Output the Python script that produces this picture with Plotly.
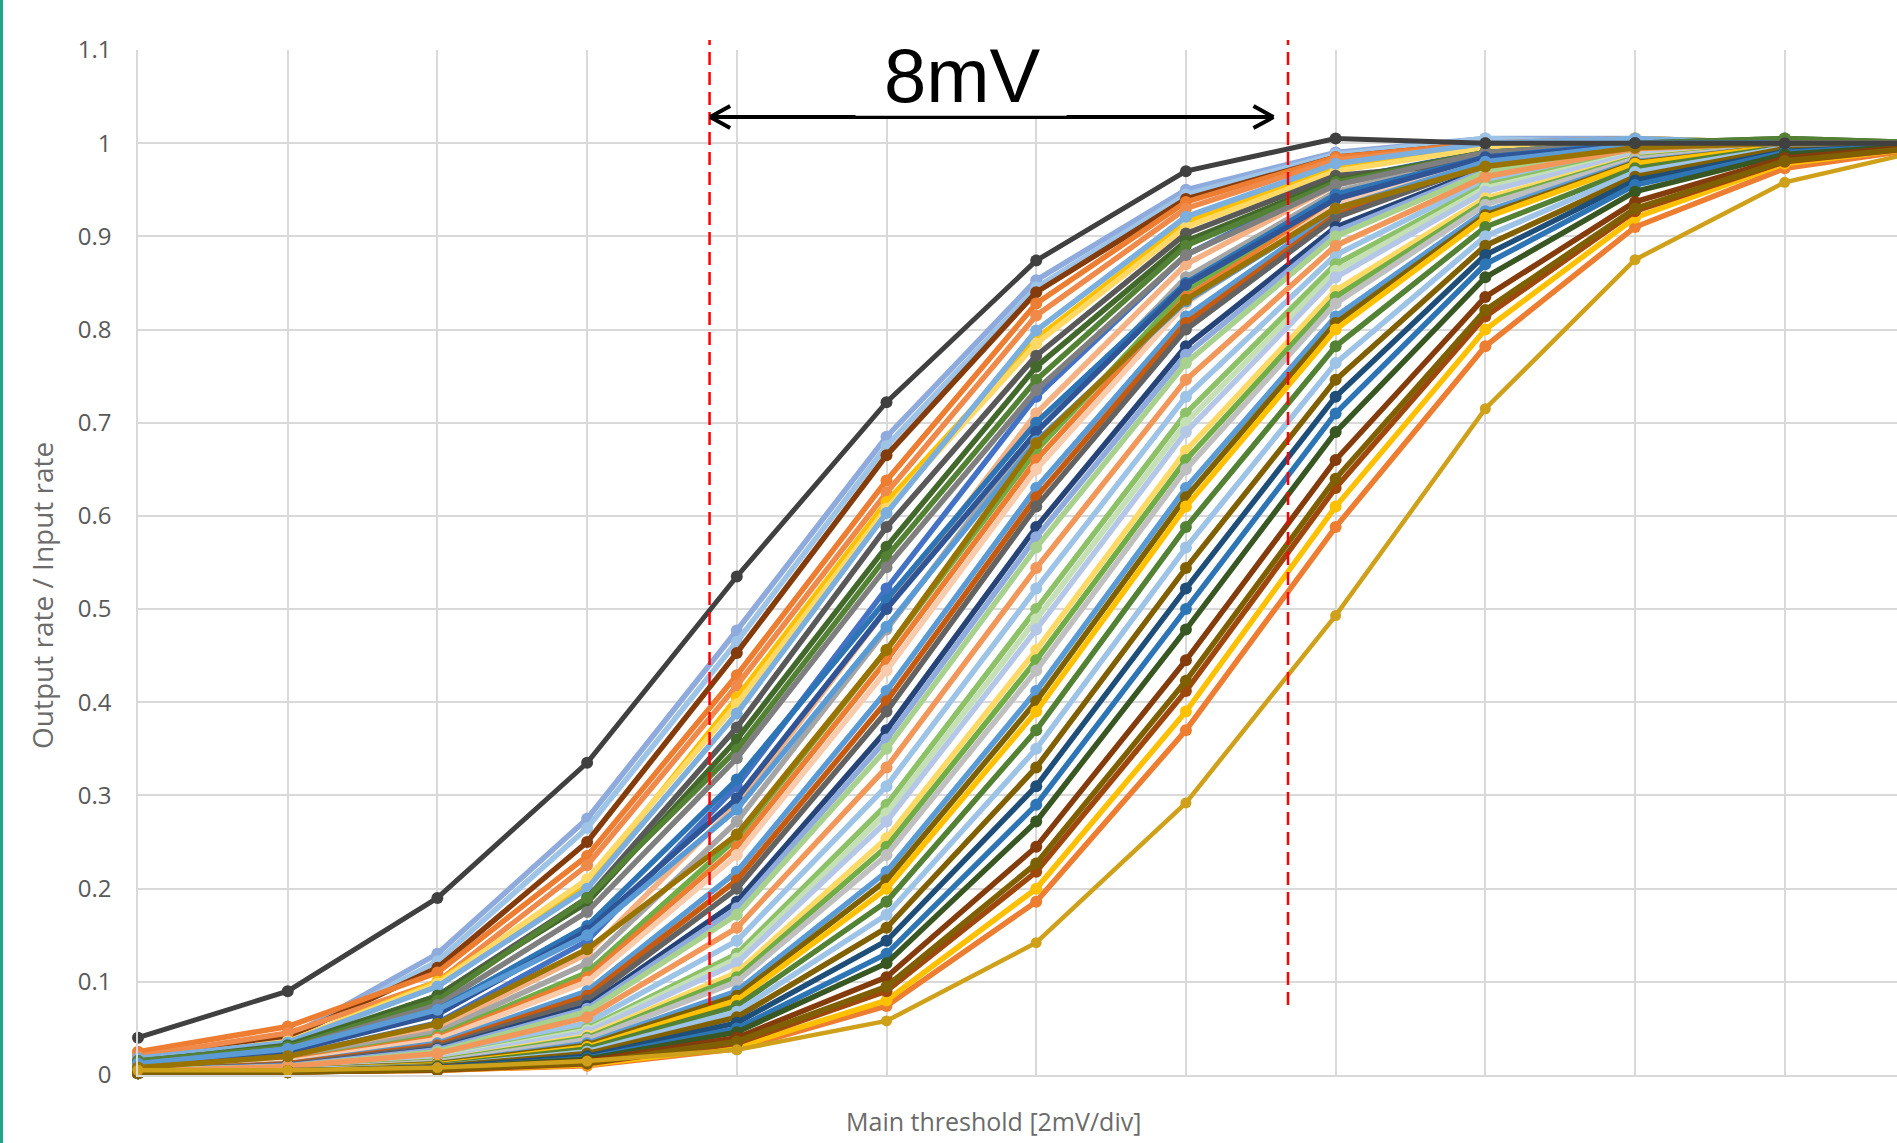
import plotly.graph_objects as go

# Threshold steps (2 mV per division)
thresholds = [0, 1, 2, 3, 4, 5, 6, 7, 8, 9, 10, 11, 12]

# Channels with the earliest turn-on
cluster_a = [
    [0.040, 0.090, 0.190, 0.335, 0.535, 0.722, 0.874, 0.970, 1.005, 1.000, 1.000, 1.000, 1.000],
    [0.022, 0.040, 0.130, 0.275, 0.477, 0.685, 0.853, 0.950, 0.990, 1.005, 1.005, 1.000, 1.000],
    [0.020, 0.038, 0.122, 0.265, 0.465, 0.675, 0.845, 0.945, 0.988, 1.005, 1.000, 1.000, 1.000],
    [0.018, 0.040, 0.115, 0.250, 0.453, 0.665, 0.840, 0.940, 0.985, 1.000, 1.000, 1.000, 1.000],
    [0.025, 0.052, 0.110, 0.235, 0.429, 0.638, 0.828, 0.937, 0.985, 1.000, 1.005, 1.000, 1.000],
    [0.020, 0.045, 0.100, 0.225, 0.418, 0.625, 0.815, 0.930, 0.982, 0.998, 1.000, 1.000, 1.000],
    [0.015, 0.035, 0.100, 0.205, 0.405, 0.615, 0.790, 0.915, 0.975, 0.995, 1.005, 1.000, 1.000],
    [0.016, 0.036, 0.098, 0.210, 0.398, 0.608, 0.785, 0.910, 0.970, 0.995, 1.000, 1.000, 1.000],
    [0.018, 0.035, 0.095, 0.200, 0.388, 0.603, 0.799, 0.921, 0.978, 1.000, 1.005, 1.000, 1.000],
    [0.015, 0.030, 0.085, 0.190, 0.373, 0.588, 0.772, 0.903, 0.965, 0.980, 1.000, 1.000, 1.000],
    [0.014, 0.032, 0.085, 0.185, 0.360, 0.567, 0.760, 0.895, 0.960, 0.990, 1.000, 1.005, 1.000],
    [0.015, 0.030, 0.080, 0.190, 0.349, 0.556, 0.746, 0.890, 0.958, 0.990, 1.000, 1.005, 1.000],
    [0.012, 0.028, 0.075, 0.175, 0.340, 0.545, 0.735, 0.880, 0.955, 0.990, 1.000, 1.000, 1.000],
    [0.012, 0.025, 0.070, 0.160, 0.317, 0.510, 0.700, 0.850, 0.945, 0.985, 1.000, 1.000, 1.000],
    [0.010, 0.025, 0.065, 0.155, 0.297, 0.500, 0.690, 0.848, 0.940, 0.985, 0.998, 1.000, 1.000],
    [0.012, 0.028, 0.070, 0.150, 0.285, 0.481, 0.680, 0.830, 0.930, 0.980, 0.998, 1.000, 1.000],
    [0.008, 0.020, 0.055, 0.135, 0.258, 0.456, 0.678, 0.832, 0.930, 0.975, 0.995, 1.000, 1.000],
]
colors_a = ["#404040", "#8FAADC", "#9DC3E6", "#843C0C", "#ED7D31", "#F08A4B", "#FFC000",
            "#FFD966", "#7CAFDD", "#595959", "#43682B", "#548235", "#7F7F7F", "#2E75B6",
            "#2F5597", "#5B9BD5", "#997300"]

cluster_b = [
    [0.008, 0.020, 0.056, 0.144, 0.310, 0.522, 0.728, 0.880, 0.960, 0.991, 0.999, 1.000, 1.000],
    [0.007, 0.018, 0.050, 0.130, 0.290, 0.500, 0.710, 0.870, 0.955, 0.990, 1.000, 1.000, 1.000],
    [0.007, 0.017, 0.046, 0.120, 0.272, 0.478, 0.690, 0.856, 0.948, 0.988, 0.999, 1.000, 1.000],
    [0.006, 0.015, 0.042, 0.110, 0.254, 0.456, 0.670, 0.842, 0.941, 0.985, 0.998, 1.000, 1.000],
    [0.006, 0.015, 0.040, 0.105, 0.245, 0.445, 0.660, 0.835, 0.937, 0.984, 0.998, 1.000, 1.000],
    [0.006, 0.014, 0.038, 0.100, 0.236, 0.434, 0.650, 0.828, 0.934, 0.983, 0.998, 1.000, 1.000],
    [0.005, 0.012, 0.034, 0.090, 0.218, 0.412, 0.630, 0.814, 0.927, 0.980, 0.997, 1.000, 1.000],
    [0.005, 0.012, 0.032, 0.085, 0.209, 0.401, 0.620, 0.807, 0.923, 0.979, 0.997, 1.000, 1.000],
    [0.005, 0.011, 0.030, 0.080, 0.200, 0.390, 0.610, 0.800, 0.920, 0.978, 0.997, 1.000, 1.000],
    [0.005, 0.010, 0.028, 0.074, 0.186, 0.370, 0.588, 0.782, 0.910, 0.973, 0.996, 1.000, 1.000],
    [0.005, 0.010, 0.027, 0.071, 0.179, 0.360, 0.577, 0.773, 0.905, 0.971, 0.996, 1.000, 1.000],
    [0.005, 0.009, 0.025, 0.068, 0.172, 0.350, 0.566, 0.764, 0.900, 0.969, 0.995, 1.000, 1.000],
    [0.004, 0.009, 0.023, 0.062, 0.158, 0.330, 0.544, 0.746, 0.890, 0.964, 0.994, 1.000, 1.000],
]
colors_b = ["#4472C4", "#F4B183", "#A5A5A5", "#70AD47", "#ED7D31", "#F8CBAD", "#5B9BD5",
            "#C55A11", "#636363", "#264478", "#8FAADC", "#A9D18E", "#F1975A"]

cluster_c = [
    [0.004, 0.008, 0.020, 0.056, 0.144, 0.310, 0.522, 0.728, 0.880, 0.960, 0.991, 0.999, 1.000],
    [0.004, 0.007, 0.018, 0.050, 0.130, 0.290, 0.500, 0.710, 0.870, 0.955, 0.990, 0.999, 1.000],
    [0.004, 0.007, 0.018, 0.048, 0.125, 0.281, 0.489, 0.700, 0.863, 0.952, 0.989, 0.999, 1.000],
    [0.004, 0.007, 0.017, 0.046, 0.120, 0.272, 0.478, 0.690, 0.856, 0.948, 0.988, 0.998, 1.000],
    [0.003, 0.006, 0.015, 0.042, 0.110, 0.254, 0.456, 0.670, 0.842, 0.941, 0.985, 0.998, 1.000],
    [0.003, 0.006, 0.015, 0.040, 0.105, 0.245, 0.445, 0.660, 0.835, 0.937, 0.984, 0.998, 1.000],
    [0.003, 0.006, 0.014, 0.038, 0.100, 0.236, 0.434, 0.650, 0.828, 0.934, 0.983, 0.998, 1.000],
    [0.003, 0.005, 0.012, 0.034, 0.090, 0.218, 0.412, 0.630, 0.814, 0.927, 0.980, 0.997, 1.000],
    [0.003, 0.005, 0.012, 0.032, 0.085, 0.209, 0.401, 0.620, 0.807, 0.923, 0.979, 0.997, 1.000],
    [0.003, 0.005, 0.011, 0.030, 0.080, 0.200, 0.390, 0.610, 0.800, 0.920, 0.978, 0.997, 1.000],
    [0.003, 0.005, 0.010, 0.028, 0.074, 0.186, 0.370, 0.588, 0.782, 0.910, 0.973, 0.996, 1.000],
    [0.002, 0.005, 0.009, 0.025, 0.068, 0.172, 0.350, 0.566, 0.764, 0.900, 0.969, 0.995, 1.000],
    [0.002, 0.004, 0.009, 0.023, 0.062, 0.158, 0.330, 0.544, 0.746, 0.890, 0.964, 0.994, 1.000],
]
colors_c = ["#9DC3E6", "#8CC168", "#C5E0B4", "#B4C7E7", "#FFD966", "#70AD47", "#BFBFBF",
            "#5B9BD5", "#7F6000", "#FFC000", "#548235", "#9DC3E6", "#806000"]

# Channels with the latest turn-on (last row: slowest channel)
cluster_d = [
    [0.002, 0.003, 0.005, 0.010, 0.028, 0.074, 0.186, 0.370, 0.588, 0.782, 0.910, 0.973, 0.996],
    [0.002, 0.003, 0.005, 0.011, 0.030, 0.080, 0.200, 0.390, 0.610, 0.800, 0.920, 0.978, 0.997],
    [0.002, 0.004, 0.008, 0.020, 0.056, 0.144, 0.310, 0.522, 0.728, 0.880, 0.960, 0.991, 0.999],
    [0.002, 0.004, 0.007, 0.018, 0.050, 0.130, 0.290, 0.500, 0.710, 0.870, 0.955, 0.990, 0.999],
    [0.002, 0.004, 0.007, 0.017, 0.046, 0.120, 0.272, 0.478, 0.690, 0.856, 0.948, 0.988, 0.999],
    [0.002, 0.003, 0.005, 0.012, 0.034, 0.090, 0.218, 0.412, 0.630, 0.814, 0.927, 0.980, 0.997],
    [0.002, 0.003, 0.006, 0.015, 0.040, 0.105, 0.245, 0.445, 0.660, 0.835, 0.937, 0.984, 0.998],
    [0.002, 0.003, 0.006, 0.013, 0.036, 0.095, 0.227, 0.423, 0.640, 0.821, 0.930, 0.981, 0.997],
    [0.005, 0.005, 0.008, 0.015, 0.027, 0.058, 0.142, 0.292, 0.493, 0.715, 0.875, 0.958, 0.995],
]
colors_d = ["#ED7D31", "#FFC000", "#1F4E79", "#2E75B6", "#385723", "#9E480E", "#843C0C",
            "#7F6000", "#CFA019"]

y_tick_vals = [0, 0.1, 0.2, 0.3, 0.4, 0.5, 0.6, 0.7, 0.8, 0.9, 1.0, 1.1]
y_tick_text = ["0", "0.1", "0.2", "0.3", "0.4", "0.5", "0.6", "0.7", "0.8", "0.9", "1", "1.1"]

window_left = 3.818
window_right = 7.682
arrow_left = 3.822
arrow_right = 7.585
arrow_y = 1.028

fig = go.Figure()

def add_group(rows, cols, width=5.5, msize=12):
    for vals, col in zip(rows, cols):
        fig.add_trace(go.Scatter(
            x=thresholds, y=vals, mode="lines+markers",
            line=dict(color=col, width=width),
            marker=dict(color=col, size=msize, symbol="circle"),
            cliponaxis=False, showlegend=False, hoverinfo="skip"))

add_group(cluster_c, colors_c)
add_group(cluster_b, colors_b)
add_group(cluster_a[1:], colors_a[1:])
add_group(cluster_d[:-1], colors_d[:-1])
add_group(cluster_d[-1:], colors_d[-1:], width=4.5, msize=11)
add_group(cluster_a[:1], colors_a[:1], width=5, msize=12)

grid = "#D9D9D9"
fig.update_layout(
    width=1897, height=1143,
    margin=dict(l=138, r=0, t=50, b=68, pad=0),
    paper_bgcolor="white", plot_bgcolor="white",
    xaxis=dict(range=[0, 11.75], dtick=1, tick0=0, showgrid=True, gridcolor=grid,
               gridwidth=1.5, zeroline=False, showticklabels=False, ticks="",
               showline=True, linecolor=grid, linewidth=1.5),
    yaxis=dict(range=[0, 1.1], tickvals=y_tick_vals, ticktext=y_tick_text,
               showgrid=True, gridcolor=grid, gridwidth=1.5, zeroline=False,
               ticks="", ticklabelstandoff=20,
               tickfont=dict(family="Open Sans", size=24, color="#595959"),
               showline=True, linecolor=grid, linewidth=1.5),
    showlegend=False,
)

shapes = []
# left teal page border
shapes.append(dict(type="rect", xref="paper", yref="paper", x0=-0.07845, x1=-0.07675,
                   y0=-0.08, y1=1.06, line=dict(width=0), fillcolor="#1FA58A", layer="above"))
# red dashed window lines
for xv in (window_left, window_right):
    shapes.append(dict(type="line", xref="x", yref="paper", x0=xv, x1=xv, y0=0.0683, y1=1.0098,
                       line=dict(color="#FF0000", width=2.5, dash="13px,7px"), layer="above"))
# arrow shaft
shapes.append(dict(type="line", xref="x", yref="y", x0=arrow_left, x1=arrow_right,
                   y0=arrow_y, y1=arrow_y, line=dict(color="black", width=4), layer="above"))
# arrow heads (open chevrons)
hx = 0.1336
hy = 0.0118
for tip, sgn in ((arrow_left, 1), (arrow_right, -1)):
    for dy in (hy, -hy):
        shapes.append(dict(type="line", xref="x", yref="y", x0=tip, x1=tip + sgn * hx,
                           y0=arrow_y, y1=arrow_y + dy, line=dict(color="black", width=4),
                           layer="above"))
# white box behind the label
shapes.append(dict(type="rect", xref="paper", yref="paper", x0=0.4079, x1=0.5279,
                   y0=0.9358, y1=1.015, line=dict(width=0), fillcolor="white", layer="above"))
fig.update_layout(shapes=shapes)

fig.add_annotation(text="8mV", xref="paper", yref="paper", x=0.4685, y=0.9756,
                   xanchor="center", yanchor="middle", showarrow=False,
                   font=dict(family="Liberation Sans", size=76, color="black"))
fig.add_annotation(text="Main threshold [2mV/div]", xref="paper", yref="paper",
                   x=0.4861, y=-0.0449, xanchor="center", yanchor="middle", showarrow=False,
                   font=dict(family="Open Sans", size=25, color="#6B6B6B"))
fig.add_annotation(text="Output rate / Input rate", xref="paper", yref="paper",
                   x=-0.0546, y=0.4683, xanchor="center", yanchor="middle", showarrow=False,
                   textangle=-90, font=dict(family="Open Sans", size=28, color="#6B6B6B"))

fig.write_html("out.html")
